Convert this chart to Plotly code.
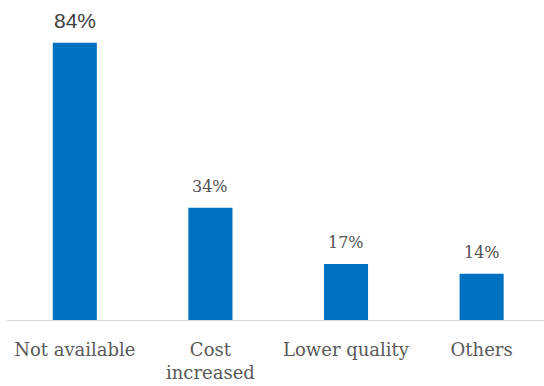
import plotly.graph_objects as go

categories = ["Not available", "Cost<br>increased", "Lower quality", "Others"]
values = [84, 34, 17, 14]
value_labels = ["84%", "34%", "17%", "14%"]

SERIF = "DejaVu Serif, serif"
SANS = "Liberation Sans, Arial, sans-serif"

fig = go.Figure()
fig.add_trace(go.Bar(
    x=list(range(len(categories))),
    y=values,
    marker=dict(color="#0070C0", line=dict(width=0)),
    width=0.325,
    hoverinfo="skip",
))

# value labels: the top one uses a sans face, the rest a serif face
for i, (v, t) in enumerate(zip(values, value_labels)):
    first = i == 0
    fig.add_annotation(
        x=i, y=v, text=t, showarrow=False,
        yanchor="bottom",
        yshift=9 if first else 10,
        font=dict(
            family=SANS if first else SERIF,
            size=21 if first else 16,
            color="#404040" if first else "#505050",
        ),
    )

fig.update_layout(
    width=544, height=386,
    margin=dict(l=7, r=0, t=23, b=66),
    paper_bgcolor="white", plot_bgcolor="white",
    showlegend=False,
    xaxis=dict(
        range=[-0.5, 3.46],
        tickmode="array",
        tickvals=list(range(len(categories))),
        ticktext=categories,
        showgrid=False, zeroline=False,
        showline=True, linecolor="#D9D9D9", linewidth=1,
        ticks="",
        tickfont=dict(family=SERIF, size=18, color="#595959"),
        ticklabelstandoff=13,
    ),
    yaxis=dict(range=[0, 90], visible=False),
)

fig.write_html("out.html")
